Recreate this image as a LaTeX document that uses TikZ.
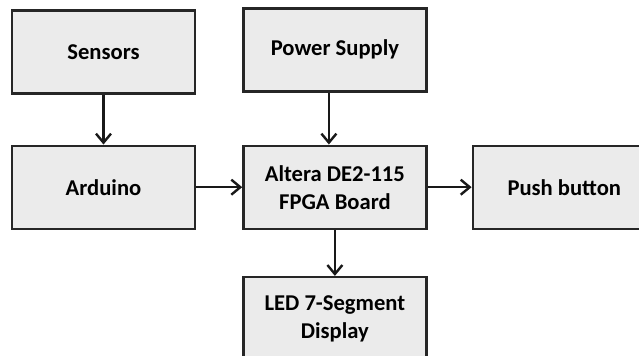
\documentclass[tikz,border=0pt]{standalone}
\usepackage{fontspec}
\setmainfont{Carlito}
\usepackage{tikz}
\usetikzlibrary{arrows.meta, positioning}

\begin{document}
\begin{tikzpicture}[
      node distance=24pt and 23pt,
      box/.style={rectangle, draw=black!85, line width=1.2pt, fill=black!8, minimum width=91.5pt, minimum height=41.5pt, inner sep=2pt, align=center, font=\bfseries\fontsize{11.3}{14}\selectfont},
      arrow/.style={-{Straight Barb[length=4.5pt, width=7.5pt]}, line width=1.2pt, black!90},
    ]
    \clip (0,0) rectangle (319.5pt,-177.5pt);
    \node[box] (sensors) at (51.75pt,-25.9pt) {Sensors};
    \node[box, below=25pt of sensors] (arduino) {Arduino};
    \node[box, right=23pt of arduino] (altera) {Altera DE2-115\\ FPGA Board};
    \node[box, right=22pt of altera] (push) {Push button};
    \node[box, above=26pt of altera] (power) {Power Supply};
    \node[box, below=23pt of altera] (led) {LED 7-Segment\\ Display};

    \draw[arrow] (sensors) -- (arduino);
    \draw[arrow] ([xshift=-3pt]power.south) -- ([xshift=-3pt]altera.north);
    \draw[arrow] (arduino) -- (altera);
    \draw[arrow] (altera) -- (push);
    \draw[arrow] (altera) -- (led);
  \end{tikzpicture}
\end{document}
